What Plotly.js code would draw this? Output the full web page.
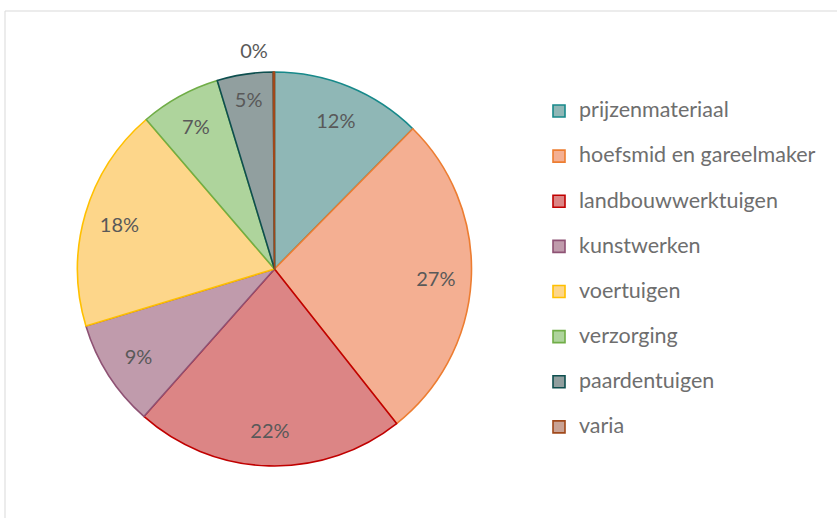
<!DOCTYPE html>
<html>
<head>
<meta charset="utf-8">
<script src="https://cdn.plot.ly/plotly-3.0.1.min.js"></script>
<style>html,body{margin:0;padding:0;background:#fff;}#chart{width:837px;height:518px;}</style>
</head>
<body>
<div id="chart"></div>
<script>
// ---- data ----
var categories = ["prijzenmateriaal", "hoefsmid en gareelmaker", "landbouwwerktuigen", "kunstwerken",
                  "voertuigen", "verzorging", "paardentuigen", "varia"];
var shares = [12.4, 27.0, 22.2, 8.8, 18.4, 6.6, 4.6, 0.1];   // percentage of total
var fillColors = ["#8FB7B6", "#F4AF92", "#DC8585", "#C09BAC", "#FDD68A", "#AED49C", "#919F9F", "#C9A294"];
var edgeColors = ["#17898A", "#ED7D31", "#C00000", "#8E5274", "#FFC000", "#70AD47", "#0E4F4F", "#A0481A"];
var labelPositions = ["inside", "inside", "inside", "inside", "inside", "inside", "inside", "outside"];
var labelPull = [0, 0, 0, 0, 0, 0, 0, 0.05];

var FONT = 'Lato, "Open Sans", sans-serif';
var legendLabels = categories.map(function (c) {
  return '<span style="font-size:21.5px">' + c + '</span><br> ';
});

var cx = 274.5, cy = 269, R = 197;
var domain = {x: [(cx - R) / 837, (cx + R) / 837], y: [(518 - cy - R) / 518, (518 - cy + R) / 518]};
var maxPull = Math.max.apply(null, labelPull);
var R2 = R * (1 + maxPull);
var textDomain = {x: [(cx - R2) / 837, (cx + R2) / 837], y: [(518 - cy - R2) / 518, (518 - cy + R2) / 518]};

var pieTrace = {
  type: 'pie',
  values: shares,
  labels: legendLabels,
  sort: false,
  direction: 'clockwise',
  rotation: 0,
  textinfo: 'none',
  hoverinfo: 'none',
  domain: domain,
  marker: {colors: fillColors, line: {color: edgeColors, width: 1.6}},
  showlegend: true
};

var textTrace = {
  type: 'pie',
  values: shares,
  labels: legendLabels,
  sort: false,
  direction: 'clockwise',
  rotation: 0,
  hole: 0.64,
  pull: labelPull,
  texttemplate: '%{percent:.0%}',
  textposition: labelPositions,
  insidetextorientation: 'horizontal',
  textfont: {family: FONT, size: 20, color: '#595959'},
  insidetextfont: {family: FONT, size: 20, color: '#595959'},
  outsidetextfont: {family: FONT, size: 20, color: '#595959'},
  hoverinfo: 'none',
  domain: textDomain,
  marker: {colors: categories.map(function () { return 'rgba(0,0,0,0)'; }), line: {width: 0}},
  showlegend: false
};

var layout = {
  width: 837,
  height: 518,
  margin: {l: 0, r: 0, t: 0, b: 0},
  paper_bgcolor: '#ffffff',
  plot_bgcolor: '#ffffff',
  font: {family: FONT, color: '#595959'},
  showlegend: true,
  legend: {
    x: 539 / 837, xanchor: 'left',
    y: 1 - 94 / 518, yanchor: 'top',
    valign: 'top',
    font: {family: FONT, size: 16.2, color: '#6E6E6E'},
    bgcolor: 'rgba(0,0,0,0)',
    borderwidth: 0
  },
  shapes: [{
    type: 'rect', xref: 'paper', yref: 'paper',
    x0: 5 / 837, x1: 1.02, y0: -0.02, y1: 1 - 11 / 518,
    line: {color: '#D9D9D9', width: 1}, fillcolor: 'rgba(0,0,0,0)'
  }]
};

Plotly.newPlot('chart', [pieTrace, textTrace], layout, {displayModeBar: false, staticPlot: true});
</script>
</body>
</html>
